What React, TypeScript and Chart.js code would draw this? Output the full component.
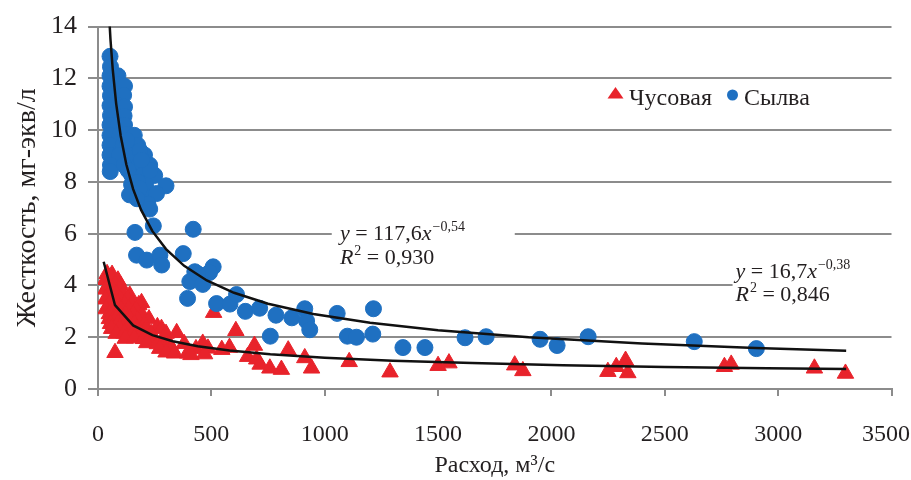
import React, { useEffect, useRef } from 'react';
import { Chart, registerables } from 'chart.js';

Chart.register(...registerables);

// Чусовая: discharge Q (m³/s) and hardness H (mg-eq/l)
const chusovayaQ = [
  40, 62, 33, 60, 88, 45, 75, 100, 34, 62,
  95, 50, 80, 110, 140, 33, 65, 100, 130, 192,
  50, 85, 118, 150, 180, 35, 68, 102, 135, 168,
  50, 85, 120, 155, 195, 50, 80, 110, 140, 175,
  225, 55, 88, 120, 160, 205, 60, 95, 130, 170,
  210, 262, 280, 80, 115, 150, 190, 235, 300, 347,
  120, 160, 200, 245, 290, 215, 262, 310, 380, 462,
  272, 325, 432, 485, 546, 300, 338, 395, 75, 410,
  470, 510, 580, 608, 660, 690, 700, 715, 758, 809,
  839, 912, 942, 1108, 1288, 1500, 1548, 1838, 1874, 2249,
  2286, 2327, 2337, 2763, 2793, 3160, 3297,
];
const chusovayaH = [
  4.45, 4.42, 4.22, 4.25, 4.2, 4.02, 4.05, 4.0, 3.85, 3.88,
  3.82, 3.66, 3.68, 3.64, 3.62, 3.47, 3.5, 3.45, 3.48, 3.33,
  3.28, 3.3, 3.26, 3.3, 3.25, 3.09, 3.1, 3.07, 3.1, 3.05,
  2.9, 2.92, 2.88, 2.9, 2.86, 2.71, 2.73, 2.7, 2.72, 2.68,
  2.7, 2.52, 2.54, 2.5, 2.53, 2.5, 2.33, 2.35, 2.32, 2.34,
  2.3, 2.4, 2.33, 2.14, 2.15, 2.12, 2.15, 2.13, 2.14, 2.17,
  1.95, 1.97, 1.94, 1.96, 1.98, 1.78, 1.74, 1.76, 1.75, 1.76,
  1.56, 1.58, 1.55, 1.57, 1.52, 1.42, 1.38, 1.38, 1.4, 1.32,
  1.35, 2.95, 1.6, 2.25, 1.25, 1.68, 1.15, 0.95, 0.8, 0.75,
  1.5, 1.2, 0.8, 1.05, 0.65, 0.9, 1.0, 0.92, 0.7, 0.67,
  0.86, 1.1, 0.62, 0.86, 0.95, 0.8, 0.6,
];

// Сылва: discharge Q (m³/s) and hardness H (mg-eq/l)
const sylvaQ = [
  53, 55, 53, 88, 53, 90, 117, 55, 113, 53,
  90, 117, 55, 115, 53, 90, 117, 53, 95, 125,
  160, 53, 110, 140, 175, 53, 95, 150, 205, 55,
  115, 180, 228, 54, 148, 200, 250, 148, 210, 300,
  139, 200, 258, 220, 228, 244, 163, 420, 170, 215,
  273, 281, 376, 427, 508, 405, 492, 440, 395, 462,
  523, 582, 611, 650, 713, 760, 785, 855, 912, 920,
  934, 1055, 1100, 1140, 1215, 1212, 1345, 1442, 1619, 1712,
  1950, 2025, 2162, 2630, 2904, 128, 133, 185, 176, 230,
  183, 172, 192,
];
const sylvaH = [
  12.85, 12.45, 12.1, 12.1, 11.7, 11.75, 11.7, 11.33, 11.35, 10.95,
  10.95, 10.9, 10.57, 10.55, 10.2, 10.2, 10.2, 9.8, 9.8, 9.85,
  9.8, 9.42, 9.42, 9.45, 9.42, 9.04, 9.04, 9.04, 9.04, 8.65,
  8.65, 8.65, 8.65, 8.4, 8.27, 8.27, 8.25, 7.9, 7.9, 7.85,
  7.5, 7.52, 7.55, 7.15, 6.95, 6.3, 6.05, 6.17, 5.17, 4.98,
  5.17, 4.79, 5.23, 4.53, 4.72, 4.15, 4.5, 4.45, 3.5, 4.04,
  3.3, 3.28, 3.65, 3.0, 3.12, 2.04, 2.85, 2.75, 3.1, 2.63,
  2.29, 2.92, 2.04, 2.0, 3.1, 2.12, 1.6, 1.6, 1.98, 2.02,
  1.92, 1.68, 2.02, 1.83, 1.56, 9.6, 8.45, 9.2, 8.0, 8.45,
  7.75, 7.35, 8.85,
];

// Power-law trend lines H = a·Q^b with their coefficients of determination
const sylvaFit = { a: 117.6, b: -0.54, r2: 0.93 };
const chusovayaFit = { a: 16.7, b: -0.38, r2: 0.846 };
const sylvaFitQ = [45, 55, 65, 80, 100, 125, 155, 190, 240, 300, 380, 480, 600, 750, 950, 1200, 1500, 1900, 2400, 2900, 3300];
const chusovayaFitQ = [25, 75, 155, 240, 330, 440, 580, 760, 1000, 1300, 1650, 2050, 2500, 2950, 3300];

const xTickValues = [0, 500, 1000, 1500, 2000, 2500, 3000, 3500];
const yTickValues = [0, 2, 4, 6, 8, 10, 12, 14];

const RED = '#e8232b';
const BLUE = '#1f70c1';
const INK = '#231f20';
const GRID = '#8c8c8c';
const SERIF = '"Liberation Serif", "Times New Roman", serif';

const fmt = (n: number, digits: number) =>
  n.toFixed(digits).replace('.', ',').replace('-', '\u2212');

function drawEquation(ctx: CanvasRenderingContext2D, left: number, base: number, fit: { a: number; b: number; r2: number }) {
  const main = `22px ${SERIF}`;
  const ital = `italic 22px ${SERIF}`;
  const sup = `14px ${SERIF}`;
  ctx.fillStyle = INK;
  ctx.textAlign = 'left';
  ctx.textBaseline = 'alphabetic';
  let x = left;
  let y = base;
  const put = (text: string, font: string, dy = 0) => {
    ctx.font = font;
    ctx.fillText(text, x, y + dy);
    x += ctx.measureText(text).width;
  };
  put('y', ital);
  put(` = ${fmt(fit.a, 1)}`, main);
  put('x', ital);
  x += 1;
  put(fmt(fit.b, 2), sup, -9);
  x = left;
  y = base + 23.5;
  put('R', ital);
  x += 1;
  put('2', sup, -9);
  put(` = ${fmt(fit.r2, 3)}`, main);
}

// keeps the outermost x tick labels inside the canvas
const edgeLabelPlugin = {
  id: 'edgeLabels',
  beforeDraw(chart: any) {
    const scale = chart.scales.x;
    if (!scale || typeof scale.getLabelItems !== 'function') return;
    const items = scale.getLabelItems();
    const ctx = chart.ctx;
    ctx.save();
    for (const it of items) {
      const t = it && it.options && it.options.translation;
      if (!t) continue;
      ctx.font = it.font.string;
      const w = ctx.measureText(String(it.label)).width;
      t[0] = Math.max(w / 2 + 1, Math.min(chart.width - w / 2 - 1, t[0]));
    }
    ctx.restore();
  },
};

const overlayPlugin = {
  id: 'overlay',
  beforeDatasetsDraw(chart: any) {
    const { ctx, scales } = chart;
    const { x, y } = scales;
    ctx.save();
    ctx.fillStyle = '#ffffff';
    // label backgrounds that interrupt the gridlines
    const boxes = [
      { q0: 1031, q1: 1825, h0: 4.6, h1: 6.6 },
      { q0: 2799, q1: 3500, h0: 3.2, h1: 5.0 },
    ];
    for (const b of boxes) {
      const l = x.getPixelForValue(b.q0);
      const r = x.getPixelForValue(b.q1) + 3;
      const t = y.getPixelForValue(b.h1);
      const bt = y.getPixelForValue(b.h0);
      ctx.fillRect(l, t, r - l, bt - t);
    }
    ctx.restore();
  },
  afterDatasetsDraw(chart: any) {
    const { ctx, scales } = chart;
    const { x, y } = scales;
    ctx.save();
    drawEquation(ctx, x.getPixelForValue(1067), y.getPixelForValue(5.75), sylvaFit);
    drawEquation(ctx, x.getPixelForValue(2812), y.getPixelForValue(4.3), chusovayaFit);

    // legend
    const base = 104.5;
    ctx.font = `24px ${SERIF}`;
    ctx.textAlign = 'left';
    ctx.textBaseline = 'alphabetic';
    ctx.fillStyle = RED;
    ctx.beginPath();
    ctx.moveTo(615.5, 87);
    ctx.lineTo(623.5, 98.5);
    ctx.lineTo(607.5, 98.5);
    ctx.closePath();
    ctx.fill();
    ctx.fillStyle = INK;
    ctx.fillText('Чусовая', 629, base);
    ctx.fillStyle = BLUE;
    ctx.beginPath();
    ctx.arc(732.5, 95, 5.5, 0, Math.PI * 2);
    ctx.fill();
    ctx.fillStyle = INK;
    ctx.fillText('Сылва', 744, base);
    ctx.restore();
  },
};

export default function App() {
  const ref = useRef<HTMLCanvasElement>(null);

  useEffect(() => {
    const canvas = ref.current;
    if (!canvas) return;
    const xFont = { family: SERIF, size: 24 };
    const yFont = { family: SERIF, size: 26 };
    const chart = new Chart(canvas, {
      type: 'scatter',
      data: {
        datasets: [
          {
            label: 'Сылва, тренд',
            data: sylvaFitQ.map((q) => ({ x: q, y: sylvaFit.a * Math.pow(q, sylvaFit.b) })),
            showLine: true,
            borderColor: '#111111',
            borderWidth: 2.5,
            pointRadius: 0,
            fill: false,
            order: 0,
          },
          {
            label: 'Чусовая, тренд',
            data: chusovayaFitQ.map((q) => ({ x: q, y: chusovayaFit.a * Math.pow(q, chusovayaFit.b) })),
            showLine: true,
            borderColor: '#111111',
            borderWidth: 2.5,
            pointRadius: 0,
            fill: false,
            order: 0,
          },
          {
            label: 'Сылва',
            data: sylvaQ.map((q, i) => ({ x: q, y: sylvaH[i] })),
            pointStyle: 'circle',
            pointRadius: 8,
            backgroundColor: BLUE,
            borderColor: BLUE,
            borderWidth: 1,
            order: 1,
          },
          {
            label: 'Чусовая',
            data: chusovayaQ.map((q, i) => ({ x: q, y: chusovayaH[i] })),
            pointStyle: 'triangle',
            pointRadius: 9.5,
            backgroundColor: RED,
            borderColor: RED,
            borderWidth: 1,
            order: 2,
          },
        ],
      },
      options: {
        responsive: false,
        animation: false,
        devicePixelRatio: 1,
        layout: { padding: { top: 22, right: 19.5, bottom: 0, left: 0 } },
        plugins: { legend: { display: false }, tooltip: { enabled: false } },
        scales: {
          x: {
            type: 'linear',
            min: 0,
            max: 3500,
            afterBuildTicks: (s: any) => {
              s.ticks = xTickValues.map((v) => ({ value: v }));
            },
            afterFit: (s: any) => {
              s.height = 91;
              s.paddingRight = 0;
            },
            ticks: { font: xFont, color: INK, padding: 24, maxRotation: 0, autoSkip: false, callback: (v: any) => String(v) },
            grid: { drawOnChartArea: false, drawTicks: true, tickLength: 7, color: GRID, lineWidth: 2 },
            border: { color: GRID, width: 2 },
            title: { display: true, text: 'Расход, м³/с', font: xFont, color: INK, padding: { top: 0, bottom: 0 } },
          },
          y: {
            type: 'linear',
            min: 0,
            max: 14,
            afterBuildTicks: (s: any) => {
              s.ticks = yTickValues.map((v) => ({ value: v }));
            },
            afterFit: (s: any) => {
              s.width = 98;
            },
            ticks: { font: yFont, color: INK, padding: 11, autoSkip: false, callback: (v: any) => String(v) },
            grid: { color: GRID, lineWidth: 2, tickLength: 10 },
            border: { color: GRID, width: 2 },
            title: { display: true, text: 'Жесткость, мг-экв/л', font: { family: SERIF, size: 28 }, color: INK, padding: { top: 11, bottom: 0 } },
          },
        },
      },
      plugins: [edgeLabelPlugin, overlayPlugin],
    } as any);
    return () => chart.destroy();
  }, []);

  return (
    <div style={{ position: 'absolute', left: 0, top: 0, width: 911, height: 480, background: '#ffffff' }}>
      <canvas ref={ref} width={911} height={480} style={{ display: 'block' }} />
    </div>
  );
}
